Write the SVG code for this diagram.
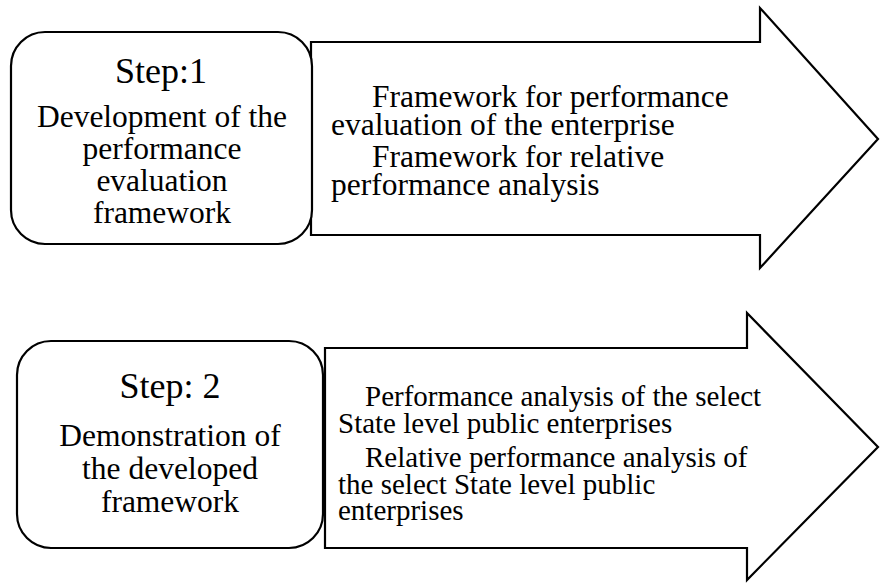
<svg xmlns="http://www.w3.org/2000/svg" width="880" height="584" viewBox="0 0 880 584">
  <style>
    .box { fill: #ffffff; stroke: #000000; stroke-width: 2.2; }
    .arrow { fill: #ffffff; stroke: #000000; stroke-width: 2.2; stroke-linejoin: miter; }
    text { font-family: "Liberation Serif", "Times New Roman", serif; fill: #000000; }
    .step { font-size: 36px; text-anchor: middle; }
    .desc { font-size: 31.5px; text-anchor: middle; }
    .body1 { font-size: 31.5px; }
    .body2 { font-size: 29px; }
  </style>

  <!-- Step 1 outcomes arrow -->
  <g id="arrow1">
    <polygon class="arrow" points="311,42 760,42 760,8 878,139 760,268 760,235 311,235"/>
    <text class="body1" x="372" y="107">Framework for performance</text>
    <text class="body1" x="331" y="135">evaluation of the enterprise</text>
    <text class="body1" x="372" y="167">Framework for relative</text>
    <text class="body1" x="331" y="195">performance analysis</text>
  </g>

  <!-- Step 1 box -->
  <g id="step1">
    <rect class="box" x="11" y="32" width="301" height="212" rx="34" ry="34"/>
    <text class="step" x="161" y="83">Step:1</text>
    <text class="desc" x="162" y="127">Development of the</text>
    <text class="desc" x="162" y="159">performance</text>
    <text class="desc" x="162" y="191">evaluation</text>
    <text class="desc" x="162" y="223">framework</text>
  </g>

  <!-- Step 2 outcomes arrow -->
  <g id="arrow2">
    <polygon class="arrow" points="325,348 747,348 747,313 878,447 747,580 747,548 325,548"/>
    <text class="body2" x="365" y="406">Performance analysis of the select</text>
    <text class="body2" x="338" y="433">State level public enterprises</text>
    <text class="body2" x="365" y="467">Relative performance analysis of</text>
    <text class="body2" x="338" y="494">the select State level public</text>
    <text class="body2" x="338" y="520">enterprises</text>
  </g>

  <!-- Step 2 box -->
  <g id="step2">
    <rect class="box" x="17" y="341" width="306" height="207" rx="34" ry="34"/>
    <text class="step" x="170" y="398">Step: 2</text>
    <text class="desc" x="170" y="446">Demonstration of</text>
    <text class="desc" x="170" y="479">the developed</text>
    <text class="desc" x="170" y="512">framework</text>
  </g>

  <g id="connectors"/>
</svg>
